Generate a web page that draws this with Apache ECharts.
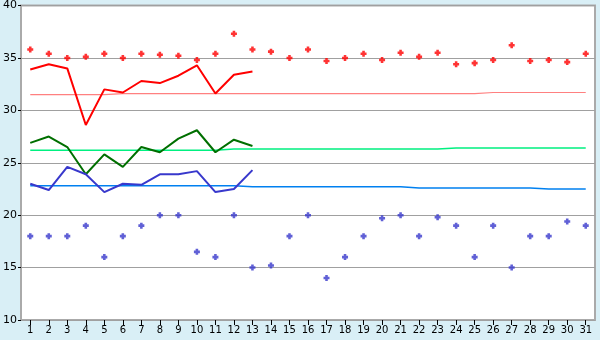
<!DOCTYPE html>
<html>
<head>
<meta charset="utf-8">
<script src="https://cdn.jsdelivr.net/npm/echarts@6/dist/echarts.min.js"></script>
<style>
html,body{margin:0;padding:0;background:#d9eff6;}
#c{width:600px;height:340px;}
</style>
</head>
<body>
<div id="c"></div>
<script>
var days = ['1','2','3','4','5','6','7','8','9','10','11','12','13','14','15','16','17','18','19','20','21','22','23','24','25','26','27','28','29','30','31'];
var yTicks = [10, 15, 20, 25, 30, 35, 40];

var maxRecord = [35.8,35.4,35.0,35.1,35.4,35.0,35.4,35.3,35.2,34.8,35.4,37.3,35.8,35.6,35.0,35.8,34.7,35.0,35.4,34.8,35.5,35.1,35.5,34.4,34.5,34.8,36.2,34.7,34.8,34.6,35.4];
var minRecord = [18,18,18,19,16,18,19,20,20,16.5,16,20,15,15.2,18,20,14,16,18,19.7,20,18,19.8,19,16,19,15,18,18,19.4,19];

var maxTemp = [33.9,34.4,34.0,28.6,32.0,31.7,32.8,32.6,33.3,34.3,31.6,33.4,33.7];
var meanTemp = [26.9,27.5,26.5,23.9,25.8,24.6,26.5,26.0,27.3,28.1,26.0,27.2,26.6];
var minTemp = [23.0,22.4,24.6,23.9,22.2,23.0,22.9,23.9,23.9,24.2,22.2,22.5,24.3];

var maxNormal = [31.5,31.5,31.5,31.5,31.5,31.6,31.6,31.6,31.6,31.6,31.6,31.6,31.6,31.6,31.6,31.6,31.6,31.6,31.6,31.6,31.6,31.6,31.6,31.6,31.6,31.7,31.7,31.7,31.7,31.7,31.7];
var meanNormal = [26.2,26.2,26.2,26.2,26.2,26.2,26.2,26.2,26.2,26.2,26.2,26.3,26.3,26.3,26.3,26.3,26.3,26.3,26.3,26.3,26.3,26.3,26.3,26.4,26.4,26.4,26.4,26.4,26.4,26.4,26.4];
var minNormal = [22.8,22.8,22.8,22.8,22.8,22.8,22.8,22.8,22.8,22.8,22.8,22.8,22.7,22.7,22.7,22.7,22.7,22.7,22.7,22.7,22.7,22.6,22.6,22.6,22.6,22.6,22.6,22.6,22.5,22.5,22.5];

var dot = 'path://M2,0H5V2H7V5H5V7H2V5H0V2H2Z';

var chart = echarts.init(document.getElementById('c'), null, {renderer:'canvas'});
function lineS(data, color, w) {
  return {type:'line', data:data, symbol:'none', lineStyle:{color:color, width:w}, itemStyle:{color:color}, animation:false, silent:true};
}
chart.setOption({
  animation:false,
  backgroundColor:'#d9eff6',
  grid:{left:20, right:5, top:5, bottom:20, show:true, backgroundColor:'#ffffff', borderColor:'#aaaaaa', borderWidth:2},
  xAxis:{
    type:'category', data:days, boundaryGap:true,
    axisLine:{show:false},
    axisTick:{show:true, alignWithLabel:true, length:5, lineStyle:{color:'#000', width:1}},
    axisLabel:{show:true, interval:0, color:'#000', fontFamily:'DejaVu Sans', fontSize:10, margin:5},
    splitLine:{show:false}
  },
  yAxis:{
    type:'value', min:yTicks[0], max:yTicks[yTicks.length-1], interval:5,
    axisLine:{show:false},
    axisTick:{show:true, length:3, lineStyle:{color:'#000', width:1}},
    axisLabel:{color:'#000', fontFamily:'DejaVu Sans', fontSize:11, margin:4},
    splitLine:{show:true, lineStyle:{color:'#a0a0a0', width:1.2}}
  },
  series:[
    lineS(maxNormal, '#ff8080', 1.2),
    lineS(meanNormal, '#00f080', 1.5),
    lineS(minNormal, '#0080f0', 1.5),
    lineS(maxTemp, '#ff0000', 2),
    lineS(meanTemp, '#006f00', 2),
    lineS(minTemp, '#3838cc', 2),
    {type:'scatter', data:maxRecord, symbol:dot, symbolSize:6, itemStyle:{color:'#ff0000'}, silent:true},
    {type:'scatter', data:minRecord, symbol:dot, symbolSize:6, itemStyle:{color:'#3838cc'}, silent:true}
  ]
});
</script>
</body>
</html>
